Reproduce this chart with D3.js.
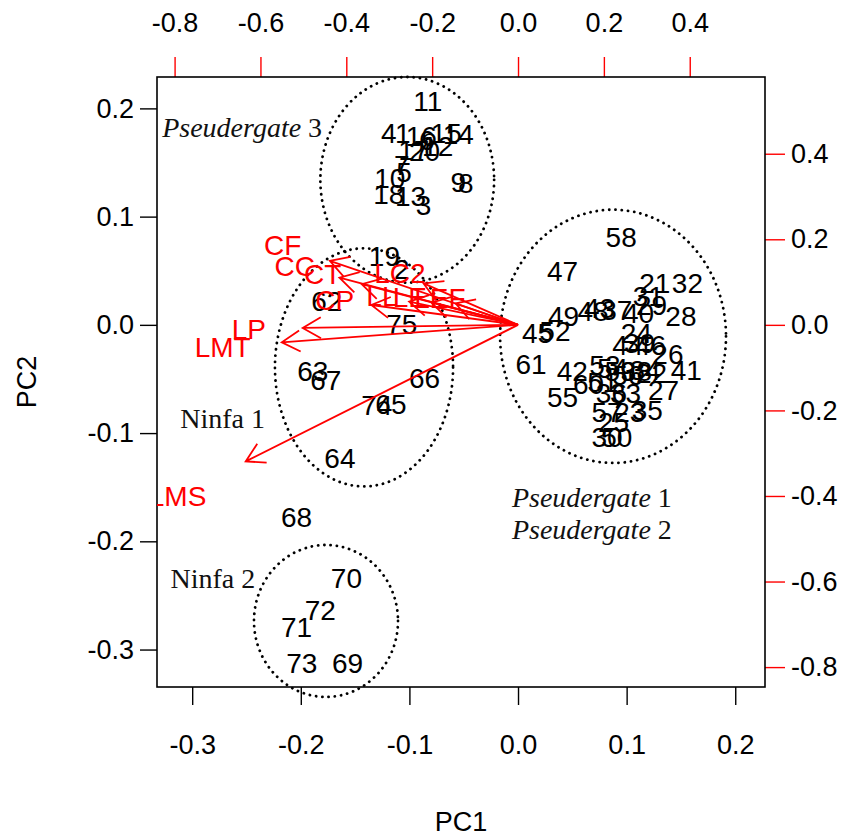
<!DOCTYPE html>
<html>
<head>
<meta charset="utf-8">
<script src="https://cdn.jsdelivr.net/npm/d3@7"></script>
<style>
  body { margin: 0; background: #fff; }
  text { font-family: "Liberation Sans", Arial, sans-serif; }
</style>
</head>
<body>
<svg id="chart" width="860" height="839"></svg>
<script>
// observation scores (PC1, PC2)
var obsLabels = ["11","4","1","16","6","15","14","20","12","7","10","5","18","13","3","9","8","17",
  "19","2","62","75","63","67","74","65","66","64","68","70","72","71","73","69",
  "58","47","21","32","31","49","48","43","37","40","29","28","45","52","24","44","39","46","26",
  "61","42","53","54","59","56","38","34","22","41","60","51","27","55","36","33","57","23","35",
  "25","30","50"];
var pc1 = [-0.083,-0.119,-0.106,-0.089,-0.084,-0.066,-0.055,-0.086,-0.074,-0.107,-0.118,-0.105,-0.119,-0.099,-0.087,-0.055,-0.048,-0.096,
  -0.123,-0.107,-0.176,-0.107,-0.189,-0.177,-0.130,-0.117,-0.086,-0.164,-0.204,-0.158,-0.182,-0.204,-0.199,-0.157,
  0.095,0.041,0.126,0.156,0.120,0.042,0.069,0.075,0.091,0.111,0.123,0.150,0.018,0.034,0.109,0.101,0.112,0.122,0.138,
  0.012,0.050,0.080,0.087,0.094,0.101,0.109,0.117,0.123,0.155,0.065,0.078,0.134,0.041,0.086,0.099,0.082,0.103,0.119,
  0.088,0.082,0.091];
var pc2 = [0.207,0.177,0.177,0.175,0.171,0.177,0.176,0.161,0.165,0.148,0.136,0.141,0.121,0.119,0.111,0.132,0.131,0.162,
  0.064,0.052,0.022,0.001,-0.043,-0.051,-0.074,-0.073,-0.049,-0.123,-0.177,-0.234,-0.263,-0.279,-0.312,-0.312,
  0.081,0.050,0.039,0.039,0.027,0.008,0.013,0.016,0.014,0.011,0.018,0.008,-0.007,-0.006,-0.007,-0.019,-0.017,-0.019,-0.027,
  -0.036,-0.043,-0.037,-0.040,-0.043,-0.046,-0.043,-0.042,-0.044,-0.042,-0.055,-0.053,-0.060,-0.067,-0.063,-0.063,-0.080,-0.080,-0.079,
  -0.090,-0.104,-0.104];

// variable loadings
var varNames = ["CF","CC","CT","CP","LC2","LL","LE","LEF","LP","LMT","LMS"];
var loadX = [-0.548,-0.520,-0.455,-0.427,-0.275,-0.317,-0.252,-0.182,-0.627,-0.688,-0.793];
var loadY = [0.187,0.138,0.119,0.058,0.121,0.068,0.065,0.063,-0.009,-0.051,-0.399];

// group annotations and their dotted ellipses (PC units)
var groupText = ["Pseudergate|3","Pseudergate|1","Pseudergate|2","Ninfa 1","Ninfa 2"];
var groupTextX = [-0.254,0.068,0.068,-0.272,-0.281];
var groupTextY = [0.183,-0.159,-0.189,-0.086,-0.234];
var ellCx = [-0.102,0.0875,-0.1418,-0.1768];
var ellCy = [0.134,-0.0106,-0.0393,-0.2736];
var ellRx = [0.080,0.104,0.082,0.0663];
var ellRy = [0.095,0.117,0.110,0.0702];

var pc1Ticks = [-0.3,-0.2,-0.1,0.0,0.1,0.2];
var pc2Ticks = [0.2,0.1,0.0,-0.1,-0.2,-0.3];
var loadTicksX = [-0.8,-0.6,-0.4,-0.2,0.0,0.2,0.4];
var loadTicksY = [0.4,0.2,0.0,-0.2,-0.4,-0.6,-0.8];

var svg = d3.select("#chart");
var boxL = 157, boxR = 765, boxT = 77, boxB = 687;
var ratio = 2.53;

var x = d3.scaleLinear().domain([-0.3324, 0.2274]).range([boxL, boxR]);
var y = d3.scaleLinear().domain([0.229, -0.3346]).range([boxT, boxB]);
var x2 = d3.scaleLinear().domain(x.domain().map(function(d) { return d * ratio; })).range([boxL, boxR]);
var y2 = d3.scaleLinear().domain(y.domain().map(function(d) { return d * ratio; })).range([boxT, boxB]);

var fmt = function(d) { return d.toFixed(1); };
var fs = 28;

svg.append("defs").append("clipPath").attr("id", "box")
  .append("rect").attr("x", boxL).attr("y", boxT).attr("width", boxR - boxL).attr("height", boxB - boxT);

function styleAxis(g, color) {
  g.select(".domain").remove();
  g.selectAll(".tick line").attr("stroke", color).attr("stroke-width", 1.4);
  g.selectAll(".tick text").attr("fill", "#000").style("font-size", "27px")
    .style("font-family", '"Liberation Sans", Arial, sans-serif');
}

svg.append("g").attr("transform", "translate(0," + boxB + ")")
  .call(d3.axisBottom(x).tickValues(pc1Ticks).tickFormat(fmt).tickSize(18).tickPadding(30))
  .call(styleAxis, "#000");
svg.append("g").attr("transform", "translate(" + boxL + ",0)")
  .call(d3.axisLeft(y).tickValues(pc2Ticks).tickFormat(fmt).tickSize(17).tickPadding(6))
  .call(styleAxis, "#000");
svg.append("g").attr("transform", "translate(0," + boxT + ")")
  .call(d3.axisTop(x2).tickValues(loadTicksX).tickFormat(fmt).tickSize(20).tickPadding(25))
  .call(styleAxis, "#ff0000");
svg.append("g").attr("transform", "translate(" + boxR + ",0)")
  .call(d3.axisRight(y2).tickValues(loadTicksY).tickFormat(fmt).tickSize(20).tickPadding(6))
  .call(styleAxis, "#ff0000");

svg.append("rect").attr("x", boxL).attr("y", boxT).attr("width", boxR - boxL).attr("height", boxB - boxT)
  .attr("fill", "none").attr("stroke", "#000").attr("stroke-width", 1.6);

svg.append("text").attr("x", (boxL + boxR) / 2).attr("y", 822).attr("dy", "0.35em")
  .attr("text-anchor", "middle").style("font-size", "27px").text("PC1");
svg.append("text").attr("transform", "translate(27," + (boxT + boxB) / 2 + ") rotate(-90)")
  .attr("dy", "0.35em").attr("text-anchor", "middle").style("font-size", "27px").text("PC2");

// dotted ellipses
svg.selectAll("ellipse.grp").data(ellCx).enter().append("ellipse")
  .attr("cx", function(d) { return x(d); })
  .attr("cy", function(d, i) { return y(ellCy[i]); })
  .attr("rx", function(d, i) { return x(ellRx[i]) - x(0); })
  .attr("ry", function(d, i) { return y(0) - y(ellRy[i]); })
  .attr("fill", "none").attr("stroke", "#000").attr("stroke-width", 2.8)
  .attr("stroke-linecap", "round").attr("stroke-dasharray", "0.1 6.2");

// observation labels
svg.append("g").selectAll("text").data(obsLabels).enter().append("text")
  .attr("x", function(d, i) { return x(pc1[i]); })
  .attr("y", function(d, i) { return y(pc2[i]); })
  .attr("dy", "0.36em").attr("text-anchor", "middle")
  .style("font-size", fs + "px").attr("fill", "#000")
  .text(function(d) { return d; });

// loading arrows
var arr = svg.append("g").attr("clip-path", "url(#box)");
var headLen = 21, headAng = Math.PI / 6;
varNames.forEach(function(name, i) {
  var x0 = x2(0), y0 = y2(0);
  var x1 = x2(loadX[i] * 0.8), y1 = y2(loadY[i] * 0.8);
  var a = Math.atan2(y0 - y1, x0 - x1);
  var p = d3.path();
  p.moveTo(x0, y0); p.lineTo(x1, y1);
  p.moveTo(x1 + headLen * Math.cos(a + headAng), y1 + headLen * Math.sin(a + headAng));
  p.lineTo(x1, y1);
  p.lineTo(x1 + headLen * Math.cos(a - headAng), y1 + headLen * Math.sin(a - headAng));
  arr.append("path").attr("d", p.toString()).attr("fill", "none")
    .attr("stroke", "#ff0000").attr("stroke-width", 1.8);
});
arr.selectAll("text").data(varNames).enter().append("text")
  .attr("x", function(d, i) { return x2(loadX[i]); })
  .attr("y", function(d, i) { return y2(loadY[i]); })
  .attr("dy", "0.36em").attr("text-anchor", "middle")
  .style("font-size", fs + "px").attr("fill", "#ff0000")
  .text(function(d) { return d; });

// group names
svg.append("g").selectAll("text").data(groupText).enter().append("text")
  .attr("x", function(d, i) { return x(groupTextX[i]); })
  .attr("y", function(d, i) { return y(groupTextY[i]); })
  .attr("dy", "0.35em").attr("text-anchor", "middle")
  .style("font-family", '"Liberation Serif", "Times New Roman", serif')
  .style("font-size", "28px").attr("fill", "#111")
  .each(function(d) {
    var parts = d.split("|");
    var t = d3.select(this);
    if (parts.length > 1) {
      t.append("tspan").style("font-style", "italic").text(parts[0]);
      t.append("tspan").text(" " + parts[1]);
    } else {
      t.text(d);
    }
  });
</script>
</body>
</html>
